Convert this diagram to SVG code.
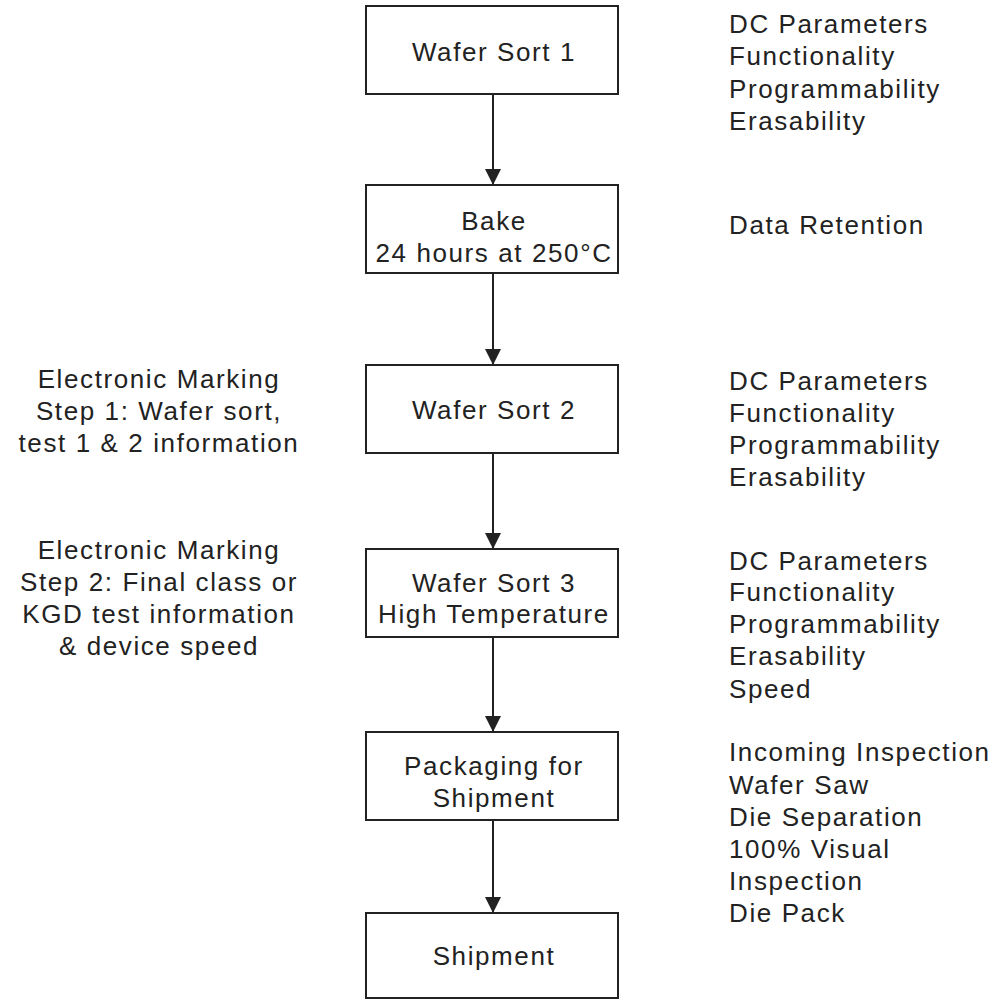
<svg xmlns="http://www.w3.org/2000/svg" width="1003" height="1000" viewBox="0 0 1003 1000">
<defs>
<marker id="ah" viewBox="0 0 16 16" refX="16" refY="8" markerWidth="16" markerHeight="16" markerUnits="userSpaceOnUse" orient="auto">
<path d="M0,0 L16,8 L0,16 z" fill="#222"/>
</marker>
<style>
.box{fill:#fff;stroke:#222;stroke-width:2}
.t{font-family:"Liberation Sans",Arial,sans-serif;font-size:26px;fill:#222;letter-spacing:1.6px}
.c{text-anchor:middle}
.conn{stroke:#222;stroke-width:2;fill:none}
</style>
</defs>
<rect width="1003" height="1000" fill="#fff"/>
<g id="connectors">
<line class="conn" x1="493" y1="94" x2="493" y2="185" marker-end="url(#ah)"/>
<line class="conn" x1="493" y1="273" x2="493" y2="365" marker-end="url(#ah)"/>
<line class="conn" x1="493" y1="453" x2="493" y2="549" marker-end="url(#ah)"/>
<line class="conn" x1="493" y1="637" x2="493" y2="732" marker-end="url(#ah)"/>
<line class="conn" x1="493" y1="820" x2="493" y2="913" marker-end="url(#ah)"/>
</g>
<g id="n1">
<rect class="box" x="366" y="6" width="252" height="88"/>
<text class="t c" x="494" y="61">Wafer Sort 1</text>
</g>
<g id="n2">
<rect class="box" x="366" y="185" width="252" height="88"/>
<text class="t c" x="494" y="230">Bake</text>
<text class="t c" x="494" y="262">24 hours at 250°C</text>
</g>
<g id="n3">
<rect class="box" x="366" y="365" width="252" height="88"/>
<text class="t c" x="494" y="419">Wafer Sort 2</text>
</g>
<g id="n4">
<rect class="box" x="366" y="549" width="252" height="88"/>
<text class="t c" x="494" y="592">Wafer Sort 3</text>
<text class="t c" x="494" y="623">High Temperature</text>
</g>
<g id="n5">
<rect class="box" x="366" y="732" width="252" height="88"/>
<text class="t c" x="494" y="775">Packaging for</text>
<text class="t c" x="494" y="807">Shipment</text>
</g>
<g id="n6">
<rect class="box" x="366" y="913" width="252" height="85"/>
<text class="t c" x="494" y="965">Shipment</text>
</g>
<g id="notes-right">
<text class="t" x="729" y="33">DC Parameters</text>
<text class="t" x="729" y="65">Functionality</text>
<text class="t" x="729" y="97.5">Programmability</text>
<text class="t" x="729" y="129.5">Erasability</text>
<text class="t" x="729" y="234">Data Retention</text>
<text class="t" x="729" y="390">DC Parameters</text>
<text class="t" x="729" y="422">Functionality</text>
<text class="t" x="729" y="454">Programmability</text>
<text class="t" x="729" y="486">Erasability</text>
<text class="t" x="729" y="570">DC Parameters</text>
<text class="t" x="729" y="601">Functionality</text>
<text class="t" x="729" y="633">Programmability</text>
<text class="t" x="729" y="665">Erasability</text>
<text class="t" x="729" y="698">Speed</text>
<text class="t" x="729" y="761">Incoming Inspection</text>
<text class="t" x="729" y="794">Wafer Saw</text>
<text class="t" x="729" y="826">Die Separation</text>
<text class="t" x="729" y="858">100% Visual</text>
<text class="t" x="729" y="890">Inspection</text>
<text class="t" x="729" y="922">Die Pack</text>
</g>
<g id="notes-left">
<text class="t c" x="159" y="388">Electronic Marking</text>
<text class="t c" x="159" y="420">Step 1: Wafer sort,</text>
<text class="t c" x="159" y="452">test 1 &amp; 2 information</text>
<text class="t c" x="159" y="559">Electronic Marking</text>
<text class="t c" x="159" y="591">Step 2: Final class or</text>
<text class="t c" x="159" y="623">KGD test information</text>
<text class="t c" x="159" y="655">&amp; device speed</text>
</g>
</svg>
